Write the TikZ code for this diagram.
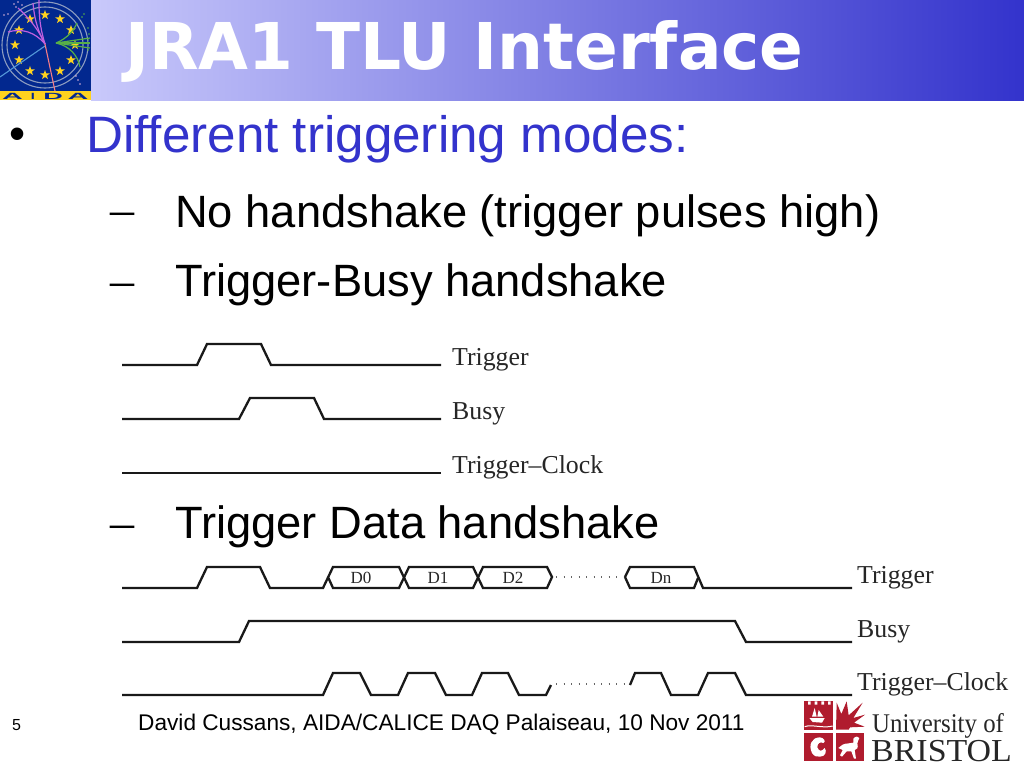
\documentclass[tikz,border=0pt]{standalone}
\usepackage{fontspec}
\setmainfont[Ligatures={NoCommon}]{Liberation Sans}
\newfontfamily\titlefont{DejaVu Sans}
\newfontfamily\serifx{Liberation Serif}
\usetikzlibrary{shapes.geometric}
\definecolor{slideblue}{HTML}{3333CC}
\definecolor{headlight}{HTML}{C9C9FB}
\definecolor{aidablue}{HTML}{02288F}
\definecolor{aidayellow}{HTML}{FFD21E}
\definecolor{aidaring}{HTML}{8C9CC0}
\definecolor{aidapurple}{HTML}{C060E0}
\definecolor{aidagreen}{HTML}{58B048}
\definecolor{bristolred}{HTML}{B01C2E}
\tikzset{
  wave/.style={line width=2.3pt,black!90,line join=miter},
  siglabel/.style={anchor=base west,inner sep=0pt,font=\serifx\fontsize{25.8}{26}\selectfont,text=black!85},
  datalabel/.style={anchor=base,inner sep=0pt,font=\serifx\fontsize{17}{17}\selectfont,text=black!85},
  dotrow/.style={line width=1.3pt,black!60,dash pattern=on 1.3pt off 6.2pt},
  bodytext/.style={anchor=base west,inner sep=0pt,font=\fontsize{45.3}{46}\selectfont},
  dashmark/.style={anchor=base west,inner sep=0pt,font=\serifx\fontsize{48}{48}\selectfont},
  aidastar/.style={star,star points=5,star point ratio=2.5,fill=aidayellow,inner sep=0pt,minimum size=10pt},
  aidaletter/.style={inner sep=0pt,font=\bfseries\fontsize{9}{9}\selectfont,text=aidablue},
  trackp/.style={aidapurple,line width=1.2pt},
  trackg/.style={aidagreen,line width=1.2pt},
}
\begin{document}
\begin{tikzpicture}[x=1pt,y=-1pt]
\useasboundingbox (0,0) rectangle (1024,768);
\fill[white] (0,0) rectangle (1024,768);
% header
\shade[left color=headlight,right color=slideblue] (91,0) rectangle (1024,100);
\node[anchor=base west,inner sep=0pt,text=white,font=\titlefont\bfseries\fontsize{64.5}{65}\selectfont] (title) at (125,70) {JRA1 TLU Interface};
% AIDA logo
\fill[aidablue] (0,0) rectangle (91,100);
\begin{scope}
\clip (0,0) rectangle (91,91);
\draw[aidaring,line width=1.1pt] (45,45) circle (43) (45,45) circle (38);
\foreach \a in {0,30,...,330}{\node[aidastar] (s\a) at ({45+30*cos(\a)},{45+30*sin(\a)}) {};}
\draw[trackp] (45,44) .. controls (38,28) and (26,15) .. (18,8);
\draw[trackp] (45,44) .. controls (36,28) and (34,14) .. (33,3);
\draw[trackp] (45,44) .. controls (39,25) and (39,10) .. (39,0);
\draw[trackp] (45,44) .. controls (35,32) and (22,28) .. (8,32);
\draw[trackg] (56,43) .. controls (68,38) and (74,30) .. (77,23);
\draw[trackg] (56,43) -- (90,38);
\draw[trackg] (56,43) -- (90,43);
\draw[trackg] (56,43) -- (90,48);
\draw[trackg] (56,43) .. controls (70,46) and (78,56) .. (80,67);
\draw[cyan!60!blue!70!white,line width=1.1pt] (45,46) -- (0,77);
\draw[magenta!50!orange!70!white,line width=1.1pt] (45,44) -- (55,91);
\foreach \p in {(14,4),(18,2),(22,5),(16,7),(4,15),(8,14),(78,80),(80,84),(76,76)}{\fill[violet!30!white] \p circle (0.9);}
\foreach \p in {(88,28),(89,34),(88,40),(88,50),(84,14),(82,17)}{\fill[aidagreen] \p circle (0.9);}
\end{scope}
\fill[aidayellow] (0,91) rectangle (91,100);
\node[aidaletter,xscale=3.2] (aa) at (12.5,96) {A};
\node[aidaletter,xscale=1.6] (ai) at (33,96) {I};
\node[aidaletter,xscale=3] (ad) at (53,96) {D};
\node[aidaletter,xscale=3.2] (ab) at (78,96) {A};
% body
\node[anchor=base west,inner sep=0pt,font=\fontsize{46}{46}\selectfont] (b0) at (9,149) {•};
\node[bodytext,text=slideblue,font=\fontsize{51.2}{52}\selectfont] (l1) at (86,152) {Different triggering modes:};
\node[dashmark] (d1) at (110,225) {–};
\node[bodytext] (l2) at (175,227) {No handshake (trigger pulses high)};
\node[dashmark] (d2) at (110,296) {–};
\node[bodytext] (l3) at (175,296) {Trigger-Busy handshake};
\node[dashmark] (d3) at (110,538) {–};
\node[bodytext] (l4) at (175,538) {Trigger Data handshake};
% first timing diagram
\draw[wave] (122,365)--(197,365)--(207,344)--(261,344)--(271,365)--(441,365);
\draw[wave] (122,419)--(239,419)--(250,398)--(314,398)--(324,419)--(441,419);
\draw[wave] (122,473)--(441,473);
\node[siglabel] (t1) at (452,365) {Trigger};
\node[siglabel] (t2) at (452,419) {Busy};
\node[siglabel] (t3) at (452,473) {Trigger–Clock};
% second timing diagram
\draw[wave] (122,588)--(197,588)--(207,567)--(260,567)--(270,588)--(323,588)--(333,567)--(399,567)--(409,588)--(473,588)--(483,567)--(547,567)--(552,577)--(547,588)--(483,588)--(473,567)--(409,567)--(399,588)--(333,588)--(328,577);
\draw[wave] (625,577)--(630,567)--(694,567)--(703,588)--(852,588);
\draw[wave] (625,577)--(630,588)--(694,588)--(698,578);
\draw[dotrow] (556,577)--(622,577);
\node[datalabel] (d0) at (361,583) {D0};
\node[datalabel] (dd1) at (438,583) {D1};
\node[datalabel] (dd2) at (513,583) {D2};
\node[datalabel] (dn) at (661,583) {Dn};
\draw[wave] (122,642)--(239,642)--(249,621)--(735,621)--(746,642)--(852,642);
\draw[wave] (122,695)--(323,695)--(333,673)--(360,673)--(371,695)--(398,695)--(408,673)--(435,673)--(446,695)--(472,695)--(482,673)--(508,673)--(519,695)--(546,695)--(551,685);
\draw[dotrow] (556,684)--(628,684);
\draw[wave] (630,685)--(635,673)--(661,673)--(671,695)--(698,695)--(708,673)--(735,673)--(746,695)--(852,695);
\node[siglabel] (u1) at (857,583) {Trigger};
\node[siglabel] (u2) at (857,637) {Busy};
\node[siglabel] (u3) at (857,690) {Trigger–Clock};
% footer
\node[anchor=base west,inner sep=0pt,font=\fontsize{16}{16}\selectfont] (pg) at (12,730) {5};
\node[anchor=base west,inner sep=0pt,font=\fontsize{22.65}{23}\selectfont] (foot) at (138,730) {David Cussans, AIDA/CALICE DAQ Palaiseau, 10 Nov 2011};
% Bristol logo (drawn in 3x crop coordinates)
\begin{scope}[shift={(800,698)},x=0.3333pt,y=-0.3333pt]
\fill[bristolred] (12,10) rectangle (100,95);
\fill[bristolred] (12,105) rectangle (100,188);
\fill[bristolred] (108,105) rectangle (192,188);
\fill[white] (24,10) rectangle (32,20) (44,10) rectangle (52,20) (64,10) rectangle (72,20) (84,10) rectangle (92,20);
\fill[white] (28,60) -- (74,60) -- (66,74) -- (38,72) -- cycle;
\fill[white] (36,56) -- (44,30) -- (50,56) -- cycle (52,56) -- (56,36) -- (70,56) -- cycle;
\draw[white,line width=1pt] (14,86) .. controls (35,78) and (70,92) .. (98,84);
\fill[bristolred] (108,95) -- (110,14) -- (124,48) -- (140,10) -- (146,52) -- (188,14) -- (160,60) -- (195,50) -- (162,74) -- (194,86) -- (150,88) -- (146,95) -- cycle;
\fill[white] (36,165) .. controls (24,140) and (36,118) .. (60,118) .. controls (74,120) and (78,132) .. (70,135) .. controls (60,130) and (52,136) .. (52,148) .. controls (56,160) and (66,162) .. (74,150) .. controls (82,160) and (76,176) .. (60,176) .. controls (50,178) and (42,174) .. (36,165) -- cycle;
\fill[white] (128,140) .. controls (140,134) and (150,138) .. (160,134) -- (160,122) .. controls (166,114) and (176,114) .. (178,120) .. controls (176,128) and (172,130) .. (172,136) .. controls (176,150) and (170,156) .. (164,156) -- (168,182) -- (162,182) -- (154,160) -- (140,160) -- (126,176) -- (120,172) -- (128,156) -- (115,150) -- (120,146) -- cycle;
\end{scope}
\node[anchor=base west,inner sep=0pt,xscale=0.92,font=\serifx\fontsize{27}{27}\selectfont,text=black!85] (uni) at (872,732) {University of};
\node[anchor=base west,inner sep=0pt,xscale=1.06,font=\serifx\fontsize{32}{32}\selectfont,text=black!85] (bri) at (871,761) {BRISTOL};
\end{tikzpicture}
\end{document}
